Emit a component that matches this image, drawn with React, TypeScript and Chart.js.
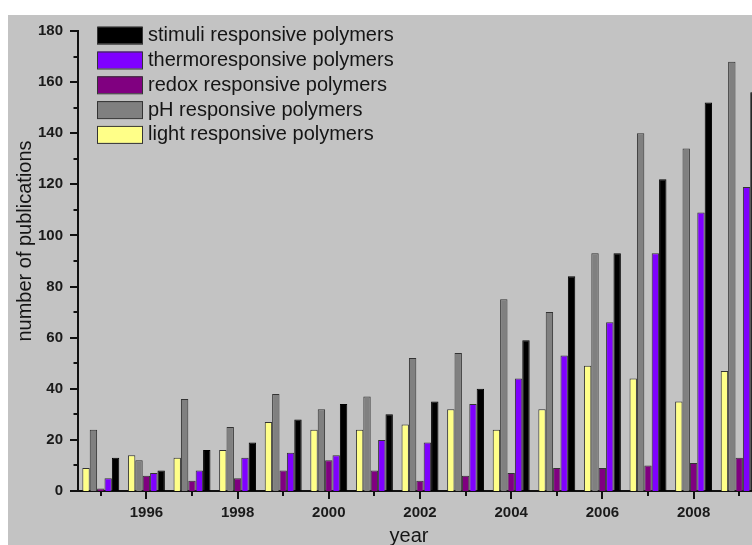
import React, { useEffect, useRef } from "react";
import { Chart, registerables } from "chart.js";

Chart.register(...registerables);

const years = ["1995", "1996", "1997", "1998", "1999", "2000", "2001", "2002", "2003", "2004", "2005", "2006", "2007", "2008", "2009"];
const lightValues = [9, 14, 13, 16, 27, 24, 24, 26, 32, 24, 32, 49, 44, 35, 47];
const phValues = [24, 12, 36, 25, 38, 32, 37, 52, 54, 75, 70, 93, 140, 134, 168];
const redoxValues = [1, 6, 4, 5, 8, 12, 8, 4, 6, 7, 9, 9, 10, 11, 13];
const thermoValues = [5, 7, 8, 13, 15, 14, 20, 19, 34, 44, 53, 66, 93, 109, 119];
const stimuliValues = [13, 8, 16, 19, 28, 34, 30, 35, 40, 59, 84, 93, 122, 152, 156];
const seriesNames = ["light responsive polymers", "pH responsive polymers", "redox responsive polymers", "thermoresponsive polymers", "stimuli responsive polymers"];
const seriesColors = ["#ffff88", "#808080", "#800080", "#7f00ff", "#000000"];
const yMin = 0;
const yMax = 180;
const yStep = 10;
const yLabelStep = 20;
const xTitle = "year";
const yTitle = "number of publications";

const FONT = "'Liberation Sans', Arial, Helvetica, sans-serif";

const decorPlugin = {
  id: "decor",
  afterDraw(chart: any) {
    const ctx = chart.ctx;
    const xs = chart.scales.x;
    const ys = chart.scales.y;
    const area = chart.chartArea;
    ctx.save();
    // tick marks
    ctx.strokeStyle = "#111";
    ctx.lineWidth = 2;
    for (let v = yMin; v <= yMax; v += yStep) {
      const py = Math.round(ys.getPixelForValue(v));
      const len = v % yLabelStep === 0 ? 8 : 4.5;
      ctx.beginPath();
      ctx.moveTo(area.left - len, py);
      ctx.lineTo(area.left, py);
      ctx.stroke();
    }
    years.forEach((yr, i) => {
      const px = Math.round(xs.getPixelForValue(i));
      const len = parseInt(yr, 10) % 2 === 0 ? 8 : 5;
      ctx.beginPath();
      ctx.moveTo(px, area.bottom);
      ctx.lineTo(px, area.bottom + len);
      ctx.stroke();
    });
    // axis titles
    ctx.fillStyle = "#151515";
    ctx.font = `20px ${FONT}`;
    ctx.textAlign = "center";
    ctx.textBaseline = "alphabetic";
    ctx.fillText(xTitle, 401, 527);
    ctx.save();
    ctx.translate(17, 226);
    ctx.rotate(-Math.PI / 2);
    ctx.textBaseline = "middle";
    ctx.fillText(yTitle, 0, 0);
    ctx.restore();
    // legend (reverse order)
    const ds = chart.data.datasets;
    ctx.textAlign = "left";
    ctx.textBaseline = "middle";
    for (let k = 0; k < ds.length; k++) {
      const d = ds[ds.length - 1 - k];
      const top = 11.7 + k * 24.8;
      ctx.fillStyle = d.backgroundColor;
      ctx.fillRect(89.5, top, 45, 17);
      ctx.strokeStyle = "#333";
      ctx.lineWidth = 1;
      ctx.strokeRect(89.5, top + 0.5, 45, 17);
      ctx.fillStyle = "#151515";
      ctx.fillText(d.label, 140, top + 9);
    }
    ctx.restore();
  },
};

export default function App() {
  const ref = useRef<HTMLCanvasElement | null>(null);
  useEffect(() => {
    if (!ref.current) return;
    const valueSets = [lightValues, phValues, redoxValues, thermoValues, stimuliValues];
    const chart = new Chart(ref.current, {
      type: "bar",
      data: {
        labels: years,
        datasets: valueSets.map((vals, i) => ({
          label: seriesNames[i],
          data: vals,
          backgroundColor: seriesColors[i],
          borderColor: i === 4 ? "#000" : "#333",
          borderWidth: 1,
          borderSkipped: "bottom",
          categoryPercentage: 0.81,
          barPercentage: 1.0,
        })),
      },
      options: {
        responsive: false,
        maintainAspectRatio: false,
        animation: false,
        devicePixelRatio: 1,
        layout: { padding: { left: 0, right: 26, top: 13, bottom: 0 } },
        plugins: {
          legend: { display: false },
          tooltip: { enabled: false },
          title: { display: false },
        },
        scales: {
          x: {
            type: "category",
            offset: true,
            z: 1,
            grid: { display: false },
            border: { display: true, color: "#111", width: 2 },
            ticks: {
              autoSkip: false,
              maxRotation: 0,
              minRotation: 0,
              padding: 5,
              color: "#1a1a1a",
              font: { family: FONT, size: 15, weight: "bold" },
              callback: (_v: any, i: number) => (parseInt(years[i], 10) % 2 === 0 ? years[i] : ""),
            },
            afterFit: (s: any) => {
              s.height = 54;
            },
          },
          y: {
            min: yMin,
            max: yMax,
            z: 1,
            grid: { display: false },
            border: { display: true, color: "#111", width: 2 },
            ticks: {
              stepSize: yStep,
              padding: 7,
              color: "#1a1a1a",
              font: { family: FONT, size: 15, weight: "bold" },
              callback: (v: any) => (Number(v) % yLabelStep === 0 ? String(v) : ""),
            },
            afterFit: (s: any) => {
              s.width = 70;
            },
          },
        },
      },
      plugins: [decorPlugin],
    });
    return () => chart.destroy();
  }, []);

  return (
    <div
      style={{
        position: "fixed",
        left: 8,
        top: 15,
        width: 744,
        height: 530,
        overflow: "hidden",
        background: "#c3c3c3",
      }}
    >
      <canvas ref={ref} width={780} height={530} style={{ display: "block", width: 780, height: 530 }} />
    </div>
  );
}
